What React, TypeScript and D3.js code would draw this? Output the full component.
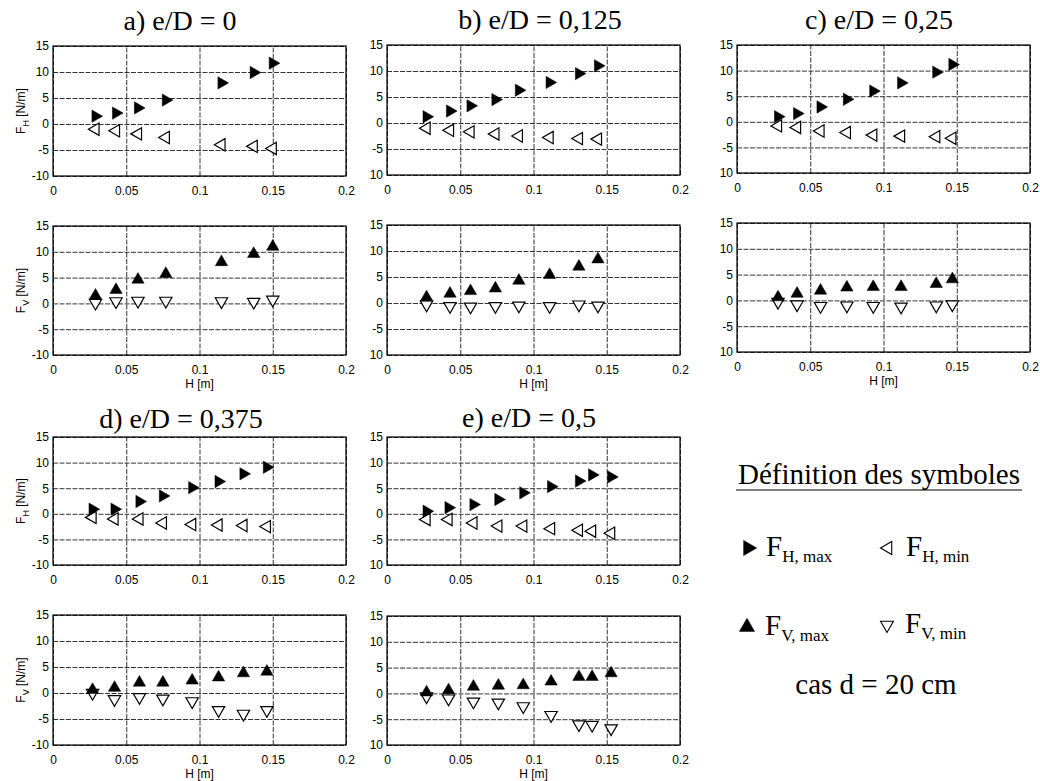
import React, { useEffect, useRef } from 'react'
import * as d3 from 'd3'

// H [m] positions and forces [N/m]
const hA = [0.029, 0.043, 0.058, 0.077, 0.115, 0.137, 0.150]
const fhMaxA = [1.5, 2.1, 3.1, 4.6, 7.9, 9.9, 11.7]
const fhMinA = [-1.0, -1.3, -1.9, -2.6, -4.0, -4.3, -4.7]
const fvMaxA = [1.5, 2.6, 4.6, 5.7, 8.0, 9.6, 11.0]
const fvMinA = [0.1, 0.4, 0.5, 0.5, 0.4, 0.3, 0.7]

const hB = [0.027, 0.043, 0.057, 0.074, 0.090, 0.111, 0.131, 0.144]
const fhMaxB = [1.2, 2.3, 3.3, 4.5, 6.3, 7.8, 9.5, 11.0]
const fhMinB = [-1.0, -1.4, -1.7, -2.1, -2.5, -2.8, -3.0, -3.1]
const fvMaxB = [1.1, 1.8, 2.3, 2.8, 4.3, 5.4, 7.0, 8.4]
const fvMinB = [-0.3, -0.6, -0.7, -0.6, -0.5, -0.6, -0.3, -0.5]

const hC = [0.028, 0.041, 0.057, 0.075, 0.093, 0.112, 0.136, 0.147]
const fhMaxC = [1.0, 1.6, 2.9, 4.4, 6.0, 7.6, 9.7, 11.2]
const fhMinC = [-0.8, -1.1, -1.8, -2.1, -2.6, -2.8, -2.9, -3.2]
const fvMaxC = [0.6, 1.3, 1.9, 2.5, 2.6, 2.6, 3.2, 4.1]
const fvMinC = [-0.3, -0.8, -1.1, -1.0, -1.1, -1.2, -1.0, -0.8]

const hD = [0.027, 0.042, 0.059, 0.075, 0.095, 0.113, 0.130, 0.146]
const fhMaxD = [0.9, 0.9, 2.4, 3.5, 5.1, 6.3, 7.8, 9.1]
const fhMinD = [-0.7, -1.0, -1.0, -1.8, -2.1, -2.2, -2.3, -2.5]
const fvMaxD = [0.6, 1.0, 2.0, 2.0, 2.4, 3.0, 3.8, 4.1]
const fvMinD = [0.0, -1.2, -0.8, -1.1, -1.6, -3.3, -4.0, -3.3]

const hE = [0.027, 0.042, 0.059, 0.076, 0.093, 0.112, 0.131, 0.140, 0.153]
const fhMaxE = [0.5, 1.2, 1.8, 2.8, 4.1, 5.3, 6.4, 7.6, 7.2]
const fhMinE = [-1.1, -1.1, -1.8, -2.4, -2.4, -2.9, -3.2, -3.4, -3.8]
const fvMaxE = [0.2, 0.6, 1.3, 1.5, 1.6, 2.3, 3.2, 3.2, 3.9]
const fvMinE = [-0.6, -1.0, -1.6, -1.8, -2.5, -4.2, -6.0, -6.1, -6.8]

const xTicks = [0, 0.05, 0.1, 0.15, 0.2]
const xTickLabels = ['0', '0.05', '0.1', '0.15', '0.2']
const yTicks = [-10, -5, 0, 5, 10, 15]
const yTickLabels = ['-10', '-5', '0', '5', '10', '15']
// the scan lost the minus sign on some panels
const yTickLabelsScan = ['10', '-5', '0', '5', '10', '15']

const titles = ['a) e/D = 0', 'b) e/D = 0,125', 'c) e/D = 0,25', 'd) e/D = 0,375', 'e) e/D = 0,5']

const panels = [
  { title: titles[0], h: hA, fhMax: fhMaxA, fhMin: fhMinA, fvMax: fvMaxA, fvMin: fvMinA, x0: 53, tTop: 46, tBot: 176, bTop: 226, bBot: 355, titleX: 180, titleY: 30, xlabY: 388, ylab: true, yLabs: yTickLabels },
  { title: titles[1], h: hB, fhMax: fhMaxB, fhMin: fhMinB, fvMax: fvMaxB, fvMin: fvMinB, x0: 387, tTop: 45, tBot: 175, bTop: 225, bBot: 355, titleX: 540, titleY: 29, xlabY: 388, ylab: false, yLabs: yTickLabelsScan },
  { title: titles[2], h: hC, fhMax: fhMaxC, fhMin: fhMinC, fvMax: fvMaxC, fvMin: fvMinC, x0: 737, tTop: 45, tBot: 173, bTop: 223, bBot: 352, titleX: 879, titleY: 29, xlabY: 385, ylab: false, yLabs: yTickLabelsScan },
  { title: titles[3], h: hD, fhMax: fhMaxD, fhMin: fhMinD, fvMax: fvMaxD, fvMin: fvMinD, x0: 53, tTop: 437, tBot: 565, bTop: 615, bBot: 745, titleX: 181, titleY: 428, xlabY: 778, ylab: true, yLabs: yTickLabels },
  { title: titles[4], h: hE, fhMax: fhMaxE, fhMin: fhMinE, fvMax: fvMaxE, fvMin: fvMinE, x0: 387, tTop: 437, tBot: 565, bTop: 616, bBot: 745, titleX: 529, titleY: 427, xlabY: 778, ylab: false, yLabs: yTickLabelsScan },
]

const plotW = 293
const sans = '"Liberation Sans", Arial, sans-serif'
const serif = '"Liberation Serif", "Times New Roman", serif'
const tickFs = 12

const tri = d3.symbol().type(d3.symbolTriangle).size(66)

function drawAxes(g, x, y, top, bot, left, yLabs) {
  // grid + tick labels
  g.append('g')
    .attr('transform', `translate(0,${bot})`)
    .call(d3.axisBottom(x).tickValues(xTicks).tickSize(-(bot - top)).tickPadding(10)
      .tickFormat((d, i) => xTickLabels[i]))
    .call(a => a.select('.domain').remove())
    .call(a => a.selectAll('line').attr('stroke', '#333').attr('stroke-dasharray', '5,1.5'))
    .call(a => a.selectAll('text').attr('font-family', sans).attr('font-size', tickFs).attr('fill', '#000'))
  g.append('g')
    .attr('transform', `translate(${left},0)`)
    .call(d3.axisLeft(y).tickValues(yTicks).tickSize(-plotW).tickPadding(4)
      .tickFormat((d, i) => yLabs[i]))
    .call(a => a.select('.domain').remove())
    .call(a => a.selectAll('line').attr('stroke', '#333').attr('stroke-dasharray', '5,1.5'))
    .call(a => a.selectAll('text').attr('font-family', sans).attr('font-size', tickFs).attr('fill', '#000'))
  g.append('rect')
    .attr('x', left).attr('y', top).attr('width', plotW).attr('height', bot - top)
    .attr('fill', 'none').attr('stroke', '#000').attr('stroke-width', 1.2)
}

function drawMarkers(g, xs, ys, x, y, rot, filled) {
  g.append('g').selectAll('path').data(ys).enter().append('path')
    .attr('d', tri)
    .attr('transform', (d, i) => `translate(${x(xs[i])},${y(d)}) rotate(${rot})`)
    .attr('fill', filled ? '#000' : '#fff')
    .attr('stroke', '#000')
    .attr('stroke-width', filled ? 0.5 : 1.2)
}

function yLabel(svg, cx, cy, sub) {
  const t = svg.append('text')
    .attr('transform', `translate(${cx},${cy}) rotate(-90)`)
    .attr('text-anchor', 'middle')
    .attr('font-family', sans).attr('font-size', 12)
  t.append('tspan').text('F')
  t.append('tspan').attr('dy', 4).attr('font-size', 9).text(sub)
  t.append('tspan').attr('dy', -4).text('  [N/m]')
}

export default function App() {
  const ref = useRef(null)

  useEffect(() => {
    document.body.style.margin = '0'
    const svg = d3.select(ref.current)
    svg.selectAll('*').remove()

    panels.forEach(p => {
      const x = d3.scaleLinear().domain([0, 0.2]).range([p.x0, p.x0 + plotW])
      const yT = d3.scaleLinear().domain([-10, 15]).range([p.tBot, p.tTop])
      const yB = d3.scaleLinear().domain([-10, 15]).range([p.bBot, p.bTop])
      const g = svg.append('g')

      drawAxes(g, x, yT, p.tTop, p.tBot, p.x0, p.yLabs)
      drawAxes(g, x, yB, p.bTop, p.bBot, p.x0, p.yLabs)

      drawMarkers(g, p.h, p.fhMin, x, yT, -90, false)
      drawMarkers(g, p.h, p.fhMax, x, yT, 90, true)
      drawMarkers(g, p.h, p.fvMin, x, yB, 180, false)
      drawMarkers(g, p.h, p.fvMax, x, yB, 0, true)

      svg.append('text')
        .attr('x', p.titleX).attr('y', p.titleY)
        .attr('text-anchor', 'middle')
        .attr('font-family', serif).attr('font-size', 28)
        .text(p.title)

      svg.append('text')
        .attr('x', p.x0 + plotW / 2).attr('y', p.xlabY)
        .attr('text-anchor', 'middle')
        .attr('font-family', sans).attr('font-size', 12)
        .text('H  [m]')

      if (p.ylab) {
        yLabel(svg, 25, (p.tTop + p.tBot) / 2, 'H')
        yLabel(svg, 25, (p.bTop + p.bBot) / 2, 'V')
      }
    })

    // legend
    const lg = svg.append('g').attr('font-family', serif).attr('fill', '#000')
    lg.append('text').attr('x', 879).attr('y', 484).attr('text-anchor', 'middle')
      .attr('font-size', 29).text('Définition des symboles')
    lg.append('line').attr('x1', 736).attr('x2', 1022).attr('y1', 490).attr('y2', 490)
      .attr('stroke', '#000').attr('stroke-width', 1.2)

    const legendItems = [
      { x: 748, y: 548, rot: 90, filled: true, sub: 'H, max' },
      { x: 888, y: 548, rot: -90, filled: false, sub: 'H, min' },
      { x: 747, y: 627, rot: 0, filled: true, sub: 'V, max' },
      { x: 887, y: 625, rot: 180, filled: false, sub: 'V, min' },
    ]
    legendItems.forEach(it => {
      lg.append('path')
        .attr('d', d3.symbol().type(d3.symbolTriangle).size(it.filled ? 100 : 72)())
        .attr('transform', `translate(${it.x},${it.y}) rotate(${it.rot})`)
        .attr('fill', it.filled ? '#000' : 'none')
        .attr('stroke', '#000').attr('stroke-width', it.filled ? 0.5 : 1.1)
      const t = lg.append('text').attr('x', it.x + 18).attr('y', it.y + 8).attr('font-size', 29)
      t.append('tspan').text('F')
      t.append('tspan').attr('dy', 6).attr('font-size', 17).text(it.sub)
    })

    lg.append('text').attr('x', 876).attr('y', 694).attr('text-anchor', 'middle')
      .attr('font-size', 29).text('cas d = 20 cm')
  }, [])

  return (
    <svg ref={ref} width={1040} height={781}
      style={{ position: 'absolute', left: 0, top: 0, background: '#fff' }} />
  )
}
